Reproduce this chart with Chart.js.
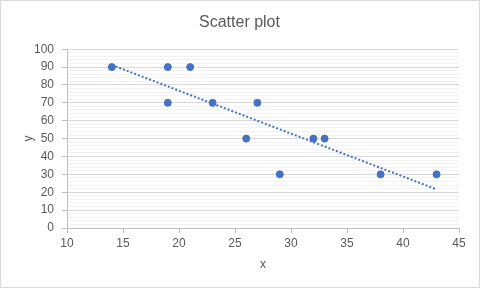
<!DOCTYPE html>
<html>
<head>
<meta charset="utf-8">
<script src="https://cdn.jsdelivr.net/npm/chart.js@4/dist/chart.umd.min.js"></script>
<style>
  body { margin: 0; background: #fff; }
</style>
</head>
<body>
<canvas id="scatterChart" width="486" height="295"></canvas>
<script>
// data
const xValues = [14, 19, 21, 19, 23, 27, 26, 29, 32, 33, 38, 43];
const yValues = [90, 90, 90, 70, 70, 70, 50, 30, 50, 50, 30, 30];
const trendX = [14, 43];
const trendY = [91.2, 21.6];

const blue = "#4472C4";
const textGray = "#595959";

const points = xValues.map((x, i) => ({ x: x, y: yValues[i] }));
const trend = trendX.map((x, i) => ({ x: x, y: trendY[i] }));

const frame = {
  id: "frame",
  beforeDraw(chart) {
    const ctx = chart.ctx;
    ctx.save();
    ctx.fillStyle = "#fff";
    ctx.fillRect(0, 0, chart.width, chart.height);
    ctx.strokeStyle = "#d9d9d9";
    ctx.lineWidth = 1;
    ctx.strokeRect(0.5, 0.5, 479, 287);
    ctx.restore();
  },
};

const chart = document.getElementById("scatterChart");

window.scatterChart = new Chart(chart, {
  type: "scatter",
  data: {
    datasets: [
      {
        label: "y",
        data: points,
        backgroundColor: blue,
        borderColor: blue,
        pointRadius: 3.5,
        pointHoverRadius: 3.5,
        order: 1,
      },
      {
        label: "trend",
        data: trend,
        showLine: true,
        borderColor: blue,
        borderWidth: 2,
        borderDash: [2, 2],
        pointRadius: 0,
        fill: false,
        order: 2,
      },
    ],
  },
  options: {
    responsive: false,
    animation: false,
    layout: { padding: { left: 0, right: 7, top: 0, bottom: 0 } },
    plugins: {
      legend: { display: false },
      tooltip: { enabled: false },
      title: {
        display: true,
        text: "Scatter plot",
        color: textGray,
        font: { family: "Liberation Sans", size: 16, weight: "normal" },
        padding: { top: 13, bottom: 17 },
      },
    },
    scales: {
      x: {
        type: "linear",
        min: 10,
        max: 45,
        ticks: {
          stepSize: 5,
          color: textGray,
          padding: 3,
          maxRotation: 0,
          font: { family: "Liberation Sans", size: 12 },
        },
        grid: {
          drawOnChartArea: false,
          drawTicks: true,
          tickLength: 5,
          tickColor: "#bfbfbf",
        },
        border: { color: "#bfbfbf" },
        title: {
          display: true,
          text: "x",
          color: textGray,
          font: { family: "Liberation Sans", size: 12 },
          padding: { top: 0, bottom: 23 },
        },
        afterFit: (scale) => {
          scale.height = 67;
        },
      },
      y: {
        type: "linear",
        min: 0,
        max: 100,
        ticks: {
          stepSize: 2,
          autoSkip: false,
          color: textGray,
          padding: 8,
          font: { family: "Liberation Sans", size: 12 },
          callback: (v) => (v % 10 === 0 ? v : ""),
        },
        grid: {
          tickLength: 5,
          color: (c) => (c.tick && c.tick.value % 10 === 0 ? "#d9d9d9" : "#f2f2f2"),
          tickColor: (c) => (c.tick && c.tick.value % 10 === 0 ? "#bfbfbf" : "rgba(0,0,0,0)"),
        },
        border: { color: "#bfbfbf" },
        title: {
          display: true,
          text: "y",
          color: textGray,
          font: { family: "Liberation Sans", size: 12 },
          padding: { top: 21, bottom: 0 },
        },
        afterFit: (scale) => {
          scale.width = 67;
        },
      },
      spacer: {
        position: "right",
        display: true,
        grid: { display: false },
        ticks: { display: false },
        border: { display: false },
        afterFit: (scale) => {
          scale.width = 20;
        },
      },
    },
  },
  plugins: [frame],
});
</script>
</body>
</html>
